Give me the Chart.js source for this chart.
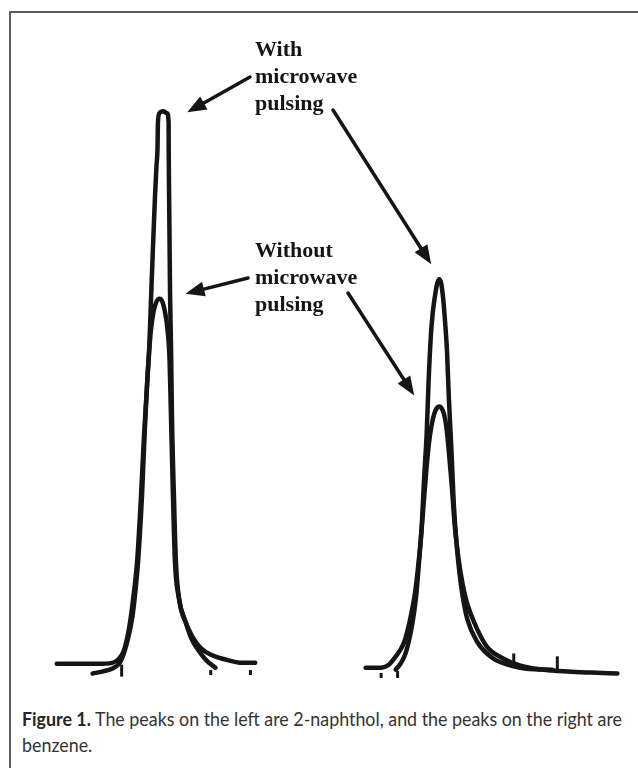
<!DOCTYPE html>
<html>
<head>
<meta charset="utf-8">
<script src="https://cdn.jsdelivr.net/npm/chart.js@4.4.1/dist/chart.umd.min.js"></script>
<style>
html,body{margin:0;padding:0;background:#fff;width:638px;height:768px;overflow:hidden;position:relative}
#frame{position:absolute;left:9px;top:11px;width:640px;height:770px;border-top:2px solid #5c5c5c;border-left:2px solid #5c5c5c}
#wrap{position:absolute;left:10px;top:12px;width:628px;height:689px}
#caption{position:absolute;left:22px;top:706px;width:616px;font-family:Lato,"Open Sans",sans-serif;font-size:19.5px;line-height:26px;color:#333}
#caption .ln{white-space:nowrap;transform-origin:0 0}
#caption .ln span{display:inline-block}
#caption b{color:#262626}
</style>
</head>
<body>
<div id="frame"></div>
<div id="wrap"><canvas id="c" width="628" height="689"></canvas></div>
<div id="caption"><div class="ln"><span id="l1"><b>Figure 1.</b> The peaks on the left are 2-naphthol, and the peaks on the right are</span></div><div class="ln"><span>benzene.</span></div></div>
<script>
// Retention time (arbitrary units) and detector signal
// Left peaks: 2-naphthol
const naphtholWithTime = [7.5,8.5,9.5,10.3,10.8,11.2,11.6,11.9,12.2,12.6,12.9,13.15,13.35,13.55,13.75,13.95,14.1,14.2,14.25,14.4,14.8,15.2,15.35,15.36,15.4,15.45,15.5,15.6,15.7,15.9,16.1,16.5,17.1,17.7,18.5,19.3,20.2];
const naphtholWithSignal = [-1.0,-0.6,0,1.2,3.6,6.6,10.6,15.6,22.2,35.6,49.6,59.6,66.2,77,87.6,97.6,103.6,107,112.6,114.4,114.8,114.4,112.6,107,97.6,87.6,77,66.2,51.6,35.6,22.2,13.6,9.6,6.2,3.6,1.6,0.2];
const naphtholWithoutTime = [3.8,6.0,8.0,9.5,10.2,10.7,11.1,11.4,11.7,12.1,12.5,12.8,13.1,13.35,13.55,13.8,14.1,14.4,14.7,15.0,15.25,15.45,15.6,15.8,16.0,16.4,17.0,17.8,18.7,19.8,21.0,23.0,24.3];
const naphtholWithoutSignal = [1.0,1.0,1.0,1.2,2.0,3.6,6.6,10.0,14.6,22.2,35.6,47.6,57.6,65.6,70.2,73.6,75.6,76.2,75.6,73.2,69.6,63.6,51.6,35.6,22.2,14.6,10.2,6.6,4.2,2.8,2.0,1.2,1.2];
// Right peaks: benzene
const benzeneWithTime = [38.8,39.3,39.8,40.2,40.5,40.9,41.2,41.5,41.75,42.0,42.2,42.45,42.65,42.85,43.1,43.3,43.5,43.7,43.9,44.1,44.3,44.55,44.8,45.1,45.4,45.7,46.2,47.2,48.8,50.8,52.3,55.0];
const benzeneWithSignal = [-0.2,1.0,3.0,6.0,9.0,14.6,21.6,29.6,39.6,48.2,59.0,69.0,73.6,76.6,79.4,80.2,79.4,76.4,71.6,65.6,55.6,45.6,34.2,25.6,19.6,15.2,10.2,5.6,2.2,0.6,0,-0.2];
const benzeneWithoutTime = [35.7,37.3,38.1,38.7,39.2,39.7,40.3,40.8,41.1,41.4,41.7,42.0,42.25,42.5,42.8,43.1,43.3,43.5,43.8,44.05,44.3,44.6,44.9,45.3,45.7,46.1,46.9,48.2,49.8,51.7,55.0,59.0,61.7];
const benzeneWithoutSignal = [0.2,0.2,0.8,2.2,3.6,5.6,10.2,15.6,20.6,26.6,34.2,41.6,46.6,50.0,52.6,53.8,54.0,53.8,52.4,49.6,44.6,37.6,29.6,22.6,17.6,14.0,9.6,4.6,2.2,0.6,-0.4,-0.8,-1.0];
// Integration tick marks on the baseline
const tickTime = [10.5,19.7,23.8,37.3,39.0,51.0,55.5];
const tickSignal = [-0.4,-0.8,-0.8,-1.4,-1.2,1.7,1.1];
// Annotation texts
const labelWith = ['With','microwave','pulsing'];
const labelWithout = ['Without','microwave','pulsing'];

// fit caption's first line to the reference width
(function(){
  const w = document.getElementById('l1').getBoundingClientRect().width;
  const k = 600 / w;
  document.querySelectorAll('#caption .ln').forEach(el => el.style.transform = 'scaleX(' + k + ')');
})();

const tickLen = [6,2.5,2.5,2.5,3.5,7,7];
const INK = '#151515';

function pts(t, s){ return t.map((x,i)=>({x:x, y:s[i]})); }
function trace(t, s){
  return {data: pts(t,s), showLine:true, borderColor:INK, borderWidth:4.5, pointRadius:0,
    cubicInterpolationMode:'monotone', borderCapStyle:'round', borderJoinStyle:'round', clip:false, fill:false};
}
const series = [
  [naphtholWithTime, naphtholWithSignal],
  [naphtholWithoutTime, naphtholWithoutSignal],
  [benzeneWithTime, benzeneWithSignal],
  [benzeneWithoutTime, benzeneWithoutSignal]
];

const labels = [
  {lines: labelWith, x: 245, y: 44},
  {lines: labelWithout, x: 245, y: 245}
];
const arrows = [
  {target:0, dx:24, dy:1, tail:[240,65]},
  {target:2, dx:-8, dy:-15, tail:[323,98]},
  {target:1, dx:26, dy:-5, tail:[238,266]},
  {target:3, dx:-25, dy:-11, tail:[338,281]}
];

const annot = {
  id:'annot',
  afterDatasetsDraw(chart){
    const ctx = chart.ctx, xs = chart.scales.x, ys = chart.scales.y;
    ctx.save();
    ctx.fillStyle = INK; ctx.strokeStyle = INK;
    ctx.font = 'bold 22px "Liberation Serif", "DejaVu Serif", serif';
    ctx.textBaseline = 'alphabetic'; ctx.textAlign = 'left';
    labels.forEach(l => l.lines.forEach((s,i)=> ctx.fillText(s, l.x, l.y + i*27)));
    arrows.forEach(a => {
      const [t, s] = series[a.target];
      let mi = 0; s.forEach((v,i)=>{ if (v > s[mi]) mi = i; });
      const tx = xs.getPixelForValue(t[mi]) + a.dx, ty = ys.getPixelForValue(s[mi]) + a.dy;
      const [fx, fy] = a.tail;
      const ang = Math.atan2(ty-fy, tx-fx), hl = 19, hw = 7.5;
      const bx = tx - hl*Math.cos(ang), by = ty - hl*Math.sin(ang);
      ctx.lineWidth = 3.5; ctx.lineCap = 'round';
      ctx.beginPath(); ctx.moveTo(fx,fy); ctx.lineTo(bx+2*Math.cos(ang), by+2*Math.sin(ang)); ctx.stroke();
      ctx.beginPath();
      ctx.moveTo(tx,ty);
      ctx.lineTo(bx + hw*Math.sin(ang), by - hw*Math.cos(ang));
      ctx.lineTo(bx - hw*Math.sin(ang), by + hw*Math.cos(ang));
      ctx.closePath(); ctx.fill();
    });
    ctx.restore();
  }
};

new Chart(document.getElementById('c'), {
  type:'scatter',
  data:{ datasets:[
    ...series.map(([t,s])=>trace(t,s)),
    {data: pts(tickTime, tickSignal), showLine:false, pointStyle:'line', rotation:90,
     pointRadius: tickLen, pointBorderWidth:3, pointBorderColor:INK, borderColor:INK, clip:false}
  ]},
  options:{
    responsive:false, animation:false, events:[],
    layout:{padding:0},
    plugins:{legend:{display:false}, tooltip:{enabled:false}},
    scales:{
      x:{type:'linear', min:0, max:62.8, display:false},
      y:{type:'linear', min:-4.6, max:133.2, display:false}
    }
  },
  plugins:[annot]
});
</script>
</body>
</html>
